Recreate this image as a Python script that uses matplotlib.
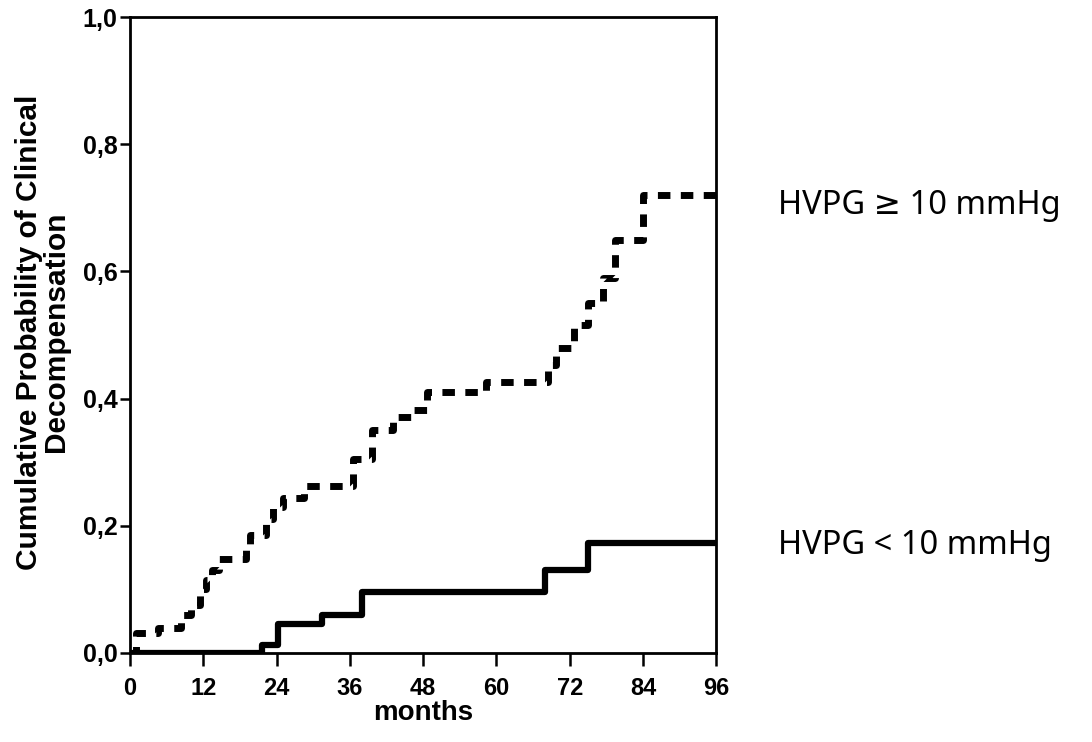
import matplotlib
matplotlib.use("Agg")
import matplotlib.pyplot as plt

# HVPG >= 10 mmHg (dashed curve) - step times (months) and cumulative probability
high_t = [0, 1, 4.6, 8.4, 10, 11.5, 12.5, 13.5, 14.5, 19, 19.7, 22.3, 23.5, 25, 28.5,
          36.5, 39.7, 43, 46, 48.6, 58.3, 68.4, 69.7, 72.7, 75, 77.5, 79.4, 84, 96]
high_p = [0.0, 0.031, 0.039, 0.06, 0.075, 0.10, 0.115, 0.13, 0.148, 0.17, 0.185, 0.21,
          0.23, 0.243, 0.263, 0.305, 0.35, 0.371, 0.382, 0.41, 0.426, 0.453, 0.48,
          0.515, 0.55, 0.59, 0.65, 0.72, 0.72]

# HVPG < 10 mmHg (solid curve)
low_t = [0, 21.7, 24.3, 31.5, 38, 68, 75, 96]
low_p = [0.0, 0.013, 0.046, 0.06, 0.096, 0.13, 0.173, 0.173]

x_ticks = [0, 12, 24, 36, 48, 60, 72, 84, 96]
y_ticks = [0.0, 0.2, 0.4, 0.6, 0.8, 1.0]
y_labels = ["0,0", "0,2", "0,4", "0,6", "0,8", "1,0"]

sans = ["Liberation Sans", "DejaVu Sans"]

fig = plt.figure(figsize=(10.92, 7.42), dpi=100)
ax = fig.add_axes([0.119, 0.12, 0.537, 0.857])

ax.step(high_t, high_p, where="post", color="black", linewidth=5,
        linestyle=(0, (1.8, 1.5)), dash_capstyle="butt")
ax.step(low_t, low_p, where="post", color="black", linewidth=4.5)

ax.set_xlim(0, 96)
ax.set_ylim(0, 1.0)
ax.set_xticks(x_ticks)
ax.set_xticklabels([str(v) for v in x_ticks], family=sans, fontsize=17, fontweight="bold")
ax.set_yticks(y_ticks)
ax.set_yticklabels(y_labels, family=sans, fontsize=18, fontweight="bold")
ax.tick_params(axis="x", direction="out", length=9, width=1.8, pad=8)
ax.tick_params(axis="y", direction="out", length=7, width=1.8, pad=2)
for s in ax.spines.values():
    s.set_linewidth(2)

ax.set_xlabel("months", family=sans, fontsize=20, fontweight="bold")
ax.xaxis.set_label_coords(0.5, -0.074)
ax.set_ylabel("Cumulative Probability of Clinical\nDecompensation",
              family=sans, fontsize=21.5, fontweight="bold", linespacing=0.92)
ax.yaxis.set_label_coords(-0.103, 0.505)

fig.text(0.712, 1 - 205 / 742, "HVPG \u2265 10 mmHg", family=["Noto Sans", "DejaVu Sans"],
         fontsize=23.5, va="center", ha="left")
fig.text(0.712, 1 - 545 / 742, "HVPG < 10 mmHg", family=["Noto Sans", "DejaVu Sans"],
         fontsize=23.5, va="center", ha="left")

fig.savefig("out.png", dpi=100)
